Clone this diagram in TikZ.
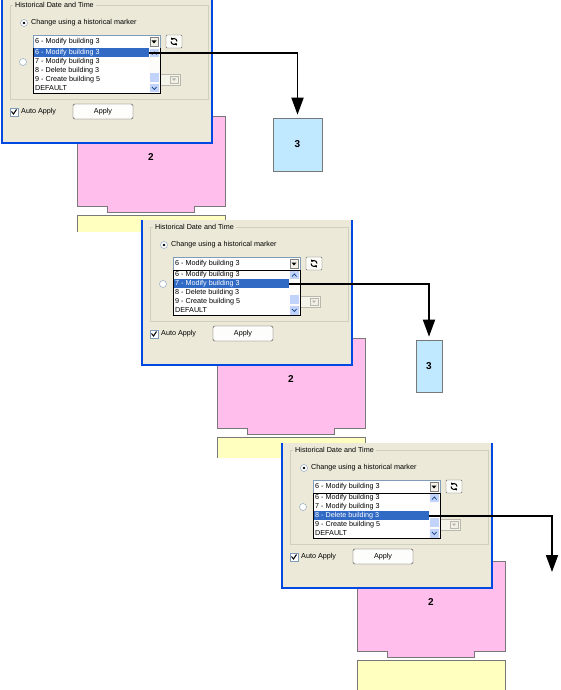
\documentclass[tikz,border=0pt]{standalone}
\usepackage{fontspec}
\setmainfont{Liberation Sans}
\usetikzlibrary{arrows.meta}
\definecolor{winbeige}{RGB}{236,233,216}
\definecolor{winblue}{RGB}{0,72,226}
\definecolor{selblue}{RGB}{49,106,197}
\definecolor{bpink}{RGB}{255,190,236}
\definecolor{byellow}{RGB}{255,255,192}
\definecolor{bblue}{RGB}{192,232,255}
\definecolor{edgegray}{RGB}{120,120,120}
\definecolor{fieldedge}{RGB}{127,157,185}
\definecolor{scrollblue}{RGB}{193,211,251}
\definecolor{groupline}{RGB}{208,208,191}
\begin{document}
\begin{tikzpicture}[x=1pt, y=-1pt,
    ui/.style={font=\fontsize{7.2}{8}\selectfont, inner sep=0pt},
    flow/.style={line width=1.8pt, black, -{Triangle[length=17pt, width=12pt]}, shorten >=3pt},
    bldg/.style={draw=edgegray, line width=0.6pt},
    tag/.style={font=\bfseries\fontsize{10}{10}\selectfont}]
\useasboundingbox (0,0) rectangle (560,690);
\foreach \i/\dx/\dy/\sel/\crop in {1/0/0/1/232, 2/140/222/2/236, 3/280/445/3/250}{
  \begin{scope}[shift={(\dx,\dy)}]
    % building 2 and the one below it
    \fill[byellow] (77,215) rectangle (225,\crop);
    \draw[bldg] (77,\crop) -- (77,215) -- (225,215) -- (225,\crop);
    \draw[bldg, fill=bpink] (77,116) -- (225,116) -- (225,206) -- (194,206) -- (194,212) -- (107,212) -- (107,206) -- (77,206) -- cycle;
    \node[tag] (two\i) at (151,157) {2};
    % dialog window
    \fill[winbeige] (2,-2) rectangle (212,143);
    \draw[winblue, line width=2.5pt] (2,-2) -- (2,143) -- (212,143) -- (212,-2);
    \draw[groupline] (10,5) rectangle (208,99);
    \node[ui, fill=winbeige, inner xsep=2pt, anchor=west] (grp\i) at (13,5) {Historical Date and Time};
    \draw[fieldedge, fill=white] (24,23) circle (3.5pt);
    \fill (24,23) circle (1.4pt);
    \node[ui, anchor=west] (mark\i) at (31,23) {Change using a historical marker};
    % combo box and refresh button
    \draw[fieldedge, fill=white] (33,35) rectangle (160,48);
    \node[ui, anchor=west] (cur\i) at (35,41.5) {6 - Modify building 3};
    \draw[gray, fill=winbeige!60!white] (150,37) rectangle (158,46);
    \fill (151.5,40.5) -- (156.5,40.5) -- (154,43.5) -- cycle;
    \draw[gray!80!black, fill=white!80!winbeige, rounded corners=1pt] (166,35) rectangle (182,48);
    \draw[line width=1pt, -{Triangle[length=2pt, width=3pt]}] (177,41.5) arc[start angle=0, end angle=150, radius=3pt];
    \draw[line width=1pt, -{Triangle[length=2pt, width=3pt]}] (171,41.5) arc[start angle=180, end angle=330, radius=3pt];
    % second option, mostly hidden
    \draw[fieldedge, fill=white] (23,62) circle (3.5pt);
    \draw[groupline!70!gray, fill=winbeige!50!white] (33,74) rectangle (180,85);
    \draw[groupline!70!gray, fill=winbeige!70!white] (170,76) rectangle (178,83);
    \fill[gray!60] (172,78.5) -- (176,78.5) -- (174,81) -- cycle;
    % drop down list
    \draw[black, fill=white] (33,48) rectangle (160,93);
    \node[fill=selblue, inner sep=0pt, minimum width=115pt, minimum height=9pt, anchor=north west] (sel\i) at (34,{48+9*(\sel-1)}) {};
    \foreach \t [count=\k] in {6 - Modify building 3, 7 - Modify building 3, 8 - Delete building 3, 9 - Create building 5, DEFAULT}{
      \ifnum\k=\sel \def\itemcol{white}\else\def\itemcol{black}\fi
      \node[ui, anchor=west, text=\itemcol] (item\i-\k) at (35,{43.5+9*\k}) {\t};
    }
    \fill[white!88!winbeige] (149,48.5) rectangle (159.5,92.5);
    \fill[scrollblue] (149.5,49) rectangle (159,57);
    \draw[selblue!70!black, line width=0.8pt] (152,54.5) -- (154.3,52) -- (156.6,54.5);
    \fill[scrollblue] (149.5,73) rectangle (159,82);
    \fill[scrollblue] (149.5,84) rectangle (159,92.5);
    \draw[selblue!70!black, line width=0.8pt] (152,87) -- (154.3,89.5) -- (156.6,87);
    % auto apply
    \draw[fieldedge, fill=white] (10,108) rectangle (18,116);
    \draw[line width=1pt] (11.5,111.5) -- (13.5,114) -- (16.5,109.5);
    \node[ui, anchor=west] (auto\i) at (21,112) {Auto Apply};
    \node[ui, draw=black!75, fill=white!90!winbeige, rounded corners=1.5pt, minimum width=60pt, minimum height=15pt] (apply\i) at (103,111.5) {Apply};
  \end{scope}
}
% building 3 before and after
\node[bldg, fill=bblue, minimum width=49pt, minimum height=53pt, tag] (three1) at (297.5,144.5) {3};
\node[bldg, fill=bblue, minimum width=26pt, minimum height=52pt, tag] (three2) at (429,366) {3};
\coordinate (gone3) at (552,575);
\draw[flow] (sel1.east) -| (three1.north);
\draw[flow] (sel2.east) -| (three2.north);
\draw[flow] (sel3.east) -| (gone3);
\end{tikzpicture}
\end{document}
